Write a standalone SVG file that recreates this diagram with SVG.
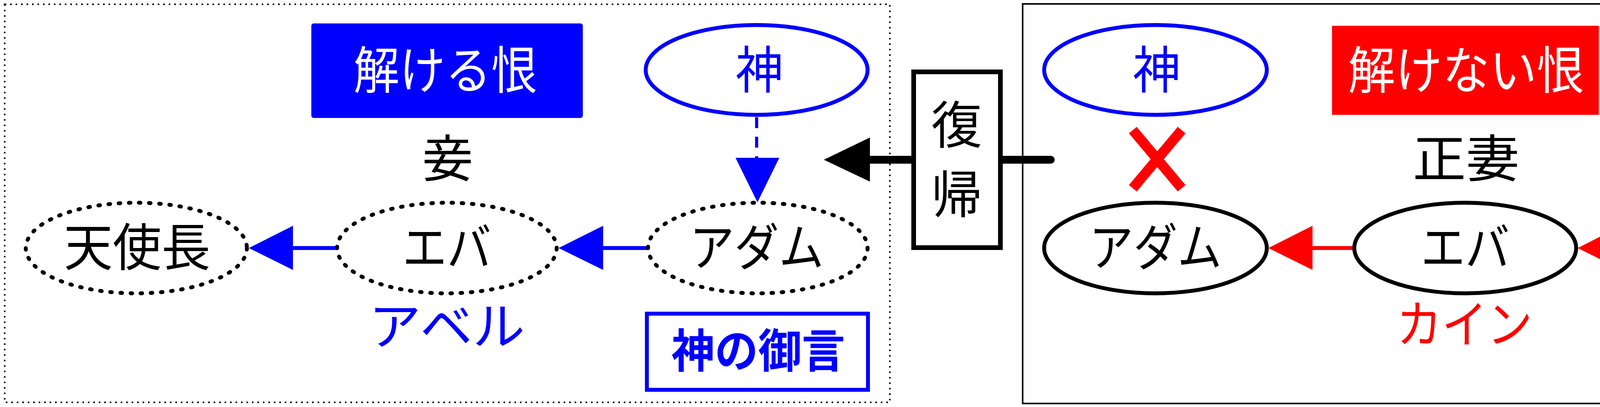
<svg xmlns="http://www.w3.org/2000/svg" width="4897" height="1042" viewBox="0 0 4897 1042">
<style>
text{font-family:"Liberation Sans","Noto Sans CJK JP",sans-serif;dominant-baseline:central;text-anchor:middle;font-size:130px}
.w{fill:#fff}.b{fill:#0000ff}.r{fill:#ff0000}.k{fill:#000}.bold{font-weight:bold;font-size:118px}
.dot{fill:#fff;stroke:#000;stroke-width:10;stroke-dasharray:4 22;stroke-linecap:round}
.sol{fill:#fff;stroke:#000;stroke-width:10}
</style>
<rect width="4897" height="1042" fill="#fff"/>
<rect x="12" y="11" width="2266" height="1019" fill="none" stroke="#000" stroke-width="4" stroke-dasharray="4 10"/>
<rect x="2618" y="10" width="2269" height="1023" fill="none" stroke="#000" stroke-width="4"/>
<g id="connectors">
<line x1="1937" y1="300" x2="1937" y2="410" stroke="#0000ff" stroke-width="8" stroke-dasharray="28 22"/>
<polygon points="1883,404 1995,404 1939,518" fill="#0000ff"/>
<line x1="1659" y1="635" x2="1540" y2="635" stroke="#0000ff" stroke-width="10"/>
<polygon points="1430,635 1544,578 1544,691" fill="#0000ff"/>
<line x1="862" y1="635" x2="745" y2="635" stroke="#0000ff" stroke-width="10"/>
<polygon points="637,635 750,578 750,691" fill="#0000ff"/>
<line x1="3467" y1="635" x2="3355" y2="635" stroke="#ff0000" stroke-width="10"/>
<polygon points="3247,635 3360,578 3360,691" fill="#ff0000"/>
<line x1="4262" y1="635" x2="4145" y2="635" stroke="#ff0000" stroke-width="10"/>
<polygon points="4039,635 4151,578 4151,691" fill="#ff0000"/>
<line x1="2690" y1="409" x2="2220" y2="409" stroke="#000" stroke-width="20" stroke-linecap="round"/>
<polygon points="2109,409 2227,352 2227,465" fill="#000"/>
</g>
<g id="kaikeru"><rect x="797" y="60" width="695" height="242" rx="6" fill="#0000ff"/><text class="w" x="1140" y="182" font-size="125" textLength="470" lengthAdjust="spacingAndGlyphs">解ける恨</text></g>
<g id="kami-l"><ellipse cx="1937" cy="179" rx="284" ry="115" fill="#fff" stroke="#0000ff" stroke-width="10"/><text class="b" x="1944" y="181" textLength="122" lengthAdjust="spacingAndGlyphs">神</text></g>
<text id="mekake" class="k" x="1146" y="408">妾</text>
<g id="tenshi-l"><ellipse class="dot" cx="349" cy="635" rx="283" ry="116"/><text class="k" x="351" y="635" textLength="375" lengthAdjust="spacingAndGlyphs">天使長</text></g>
<g id="eva-l"><ellipse class="dot" cx="1144" cy="635" rx="281" ry="116"/><text class="k" x="1144" y="635" textLength="227" lengthAdjust="spacingAndGlyphs">エバ</text></g>
<g id="adam-l"><ellipse class="dot" cx="1940" cy="635" rx="281" ry="116"/><text class="k" x="1937" y="635" textLength="343" lengthAdjust="spacingAndGlyphs">アダム</text></g>
<text id="abel" class="b" x="1144" y="837" textLength="400" lengthAdjust="spacingAndGlyphs">アベル</text>
<g id="mikotoba"><rect x="1656" y="803" width="566" height="195" fill="#fff" stroke="#0000ff" stroke-width="10"/><text class="b bold" x="1941" y="900" textLength="445" lengthAdjust="spacingAndGlyphs">神の御言</text></g>
<g id="fukki"><rect x="2339" y="184" width="222" height="450" fill="#fff" stroke="#000" stroke-width="12"/><text class="k" x="2449" y="322" font-size="145">復</text><text class="k" x="2449" y="500" font-size="145">帰</text></g>
<g id="kami-r"><ellipse cx="2958" cy="179" rx="285" ry="115" fill="#fff" stroke="#0000ff" stroke-width="10"/><text class="b" x="2961" y="181" textLength="122" lengthAdjust="spacingAndGlyphs">神</text></g>
<g id="cross"><line x1="2900" y1="333" x2="3025" y2="482" stroke="#ff0000" stroke-width="26"/><line x1="3025" y1="333" x2="2900" y2="482" stroke="#ff0000" stroke-width="26"/></g>
<g id="kaikenai"><rect x="3410" y="66" width="683" height="228" fill="#ff0000"/><text class="w" x="3753" y="182" font-size="125" textLength="604" lengthAdjust="spacingAndGlyphs">解けない恨</text></g>
<text id="seisai" class="k" x="3753" y="408" textLength="273" lengthAdjust="spacingAndGlyphs">正妻</text>
<g id="adam-r"><ellipse class="sol" cx="2958" cy="635" rx="285" ry="116"/><text class="k" x="2958" y="635" textLength="339" lengthAdjust="spacingAndGlyphs">アダム</text></g>
<g id="eva-r"><ellipse class="sol" cx="3751" cy="635" rx="284" ry="116"/><text class="k" x="3751" y="635" textLength="227" lengthAdjust="spacingAndGlyphs">エバ</text></g>
<g id="tenshi-r"><ellipse class="sol" cx="4546" cy="635" rx="284" ry="116"/><text class="k" x="4548" y="635" textLength="372" lengthAdjust="spacingAndGlyphs">天使長</text></g>
<text id="cain" class="r" x="3749" y="832" textLength="348" lengthAdjust="spacingAndGlyphs">カイン</text>
<g id="itsuwari"><rect x="4265" y="803" width="566" height="195" fill="#fff" stroke="#ff0000" stroke-width="10"/><text class="r bold" x="4548" y="900" textLength="406" lengthAdjust="spacingAndGlyphs">偽りの言</text></g>
</svg>
